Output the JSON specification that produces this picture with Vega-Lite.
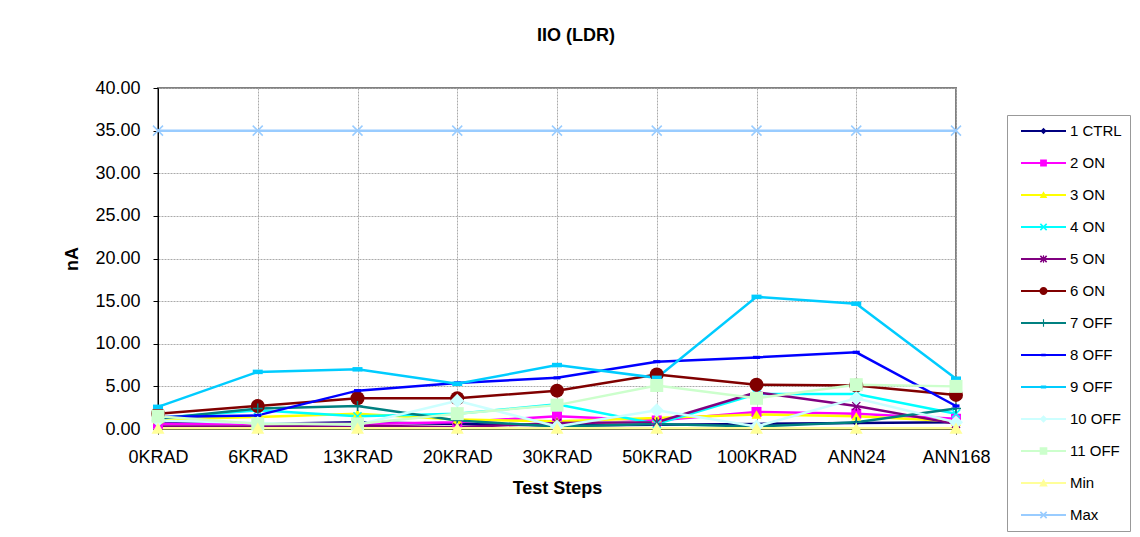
{
  "$schema": "https://vega.github.io/schema/vega-lite/v6.json",
  "autosize": "none",
  "width": 798,
  "height": 341,
  "padding": {"left": 158, "top": 88, "right": 184, "bottom": 108},
  "background": "white",
  "config": {
    "font": "Liberation Sans",
    "view": {"stroke": "#808080", "strokeWidth": 2}
  },
  "title": {"text": "IIO (LDR)", "fontSize": 18, "fontWeight": "bold", "font": "Liberation Sans", "color": "black", "offset": 34, "dx": 19, "anchor": "middle"},
  "data": {"values": [
    {"step":"0KRAD","series":"1 CTRL","value":0.9},{"step":"6KRAD","series":"1 CTRL","value":0.6},{"step":"13KRAD","series":"1 CTRL","value":0.8},{"step":"20KRAD","series":"1 CTRL","value":0.6},{"step":"30KRAD","series":"1 CTRL","value":0.4},{"step":"50KRAD","series":"1 CTRL","value":0.5},{"step":"100KRAD","series":"1 CTRL","value":0.6},{"step":"ANN24","series":"1 CTRL","value":0.7},{"step":"ANN168","series":"1 CTRL","value":0.8},
    {"step":"0KRAD","series":"2 ON","value":0.6},{"step":"6KRAD","series":"2 ON","value":0.6},{"step":"13KRAD","series":"2 ON","value":0.6},{"step":"20KRAD","series":"2 ON","value":0.8},{"step":"30KRAD","series":"2 ON","value":1.5},{"step":"50KRAD","series":"2 ON","value":1.0},{"step":"100KRAD","series":"2 ON","value":2.0},{"step":"ANN24","series":"2 ON","value":1.8},{"step":"ANN168","series":"2 ON","value":1.2},
    {"step":"0KRAD","series":"3 ON","value":1.1},{"step":"6KRAD","series":"3 ON","value":1.4},{"step":"13KRAD","series":"3 ON","value":1.8},{"step":"20KRAD","series":"3 ON","value":1.1},{"step":"30KRAD","series":"3 ON","value":0.9},{"step":"50KRAD","series":"3 ON","value":1.3},{"step":"100KRAD","series":"3 ON","value":1.7},{"step":"ANN24","series":"3 ON","value":1.5},{"step":"ANN168","series":"3 ON","value":0.9},
    {"step":"0KRAD","series":"4 ON","value":1.3},{"step":"6KRAD","series":"4 ON","value":2.2},{"step":"13KRAD","series":"4 ON","value":1.5},{"step":"20KRAD","series":"4 ON","value":1.8},{"step":"30KRAD","series":"4 ON","value":2.9},{"step":"50KRAD","series":"4 ON","value":0.6},{"step":"100KRAD","series":"4 ON","value":4.1},{"step":"ANN24","series":"4 ON","value":4.1},{"step":"ANN168","series":"4 ON","value":1.8},
    {"step":"0KRAD","series":"5 ON","value":0.3},{"step":"6KRAD","series":"5 ON","value":0.3},{"step":"13KRAD","series":"5 ON","value":0.4},{"step":"20KRAD","series":"5 ON","value":0.2},{"step":"30KRAD","series":"5 ON","value":0.7},{"step":"50KRAD","series":"5 ON","value":0.8},{"step":"100KRAD","series":"5 ON","value":4.3},{"step":"ANN24","series":"5 ON","value":2.7},{"step":"ANN168","series":"5 ON","value":0.6},
    {"step":"0KRAD","series":"6 ON","value":1.8},{"step":"6KRAD","series":"6 ON","value":2.7},{"step":"13KRAD","series":"6 ON","value":3.6},{"step":"20KRAD","series":"6 ON","value":3.6},{"step":"30KRAD","series":"6 ON","value":4.5},{"step":"50KRAD","series":"6 ON","value":6.4},{"step":"100KRAD","series":"6 ON","value":5.2},{"step":"ANN24","series":"6 ON","value":5.1},{"step":"ANN168","series":"6 ON","value":4.0},
    {"step":"0KRAD","series":"7 OFF","value":1.2},{"step":"6KRAD","series":"7 OFF","value":2.4},{"step":"13KRAD","series":"7 OFF","value":2.7},{"step":"20KRAD","series":"7 OFF","value":1.0},{"step":"30KRAD","series":"7 OFF","value":0.3},{"step":"50KRAD","series":"7 OFF","value":0.6},{"step":"100KRAD","series":"7 OFF","value":0.3},{"step":"ANN24","series":"7 OFF","value":0.8},{"step":"ANN168","series":"7 OFF","value":2.4},
    {"step":"0KRAD","series":"8 OFF","value":1.4},{"step":"6KRAD","series":"8 OFF","value":1.6},{"step":"13KRAD","series":"8 OFF","value":4.5},{"step":"20KRAD","series":"8 OFF","value":5.4},{"step":"30KRAD","series":"8 OFF","value":6.0},{"step":"50KRAD","series":"8 OFF","value":7.9},{"step":"100KRAD","series":"8 OFF","value":8.4},{"step":"ANN24","series":"8 OFF","value":9.0},{"step":"ANN168","series":"8 OFF","value":2.7},
    {"step":"0KRAD","series":"9 OFF","value":2.6},{"step":"6KRAD","series":"9 OFF","value":6.7},{"step":"13KRAD","series":"9 OFF","value":7.0},{"step":"20KRAD","series":"9 OFF","value":5.3},{"step":"30KRAD","series":"9 OFF","value":7.5},{"step":"50KRAD","series":"9 OFF","value":6.0},{"step":"100KRAD","series":"9 OFF","value":15.5},{"step":"ANN24","series":"9 OFF","value":14.7},{"step":"ANN168","series":"9 OFF","value":5.9},
    {"step":"0KRAD","series":"10 OFF","value":1.0},{"step":"6KRAD","series":"10 OFF","value":0.7},{"step":"13KRAD","series":"10 OFF","value":0.5},{"step":"20KRAD","series":"10 OFF","value":3.3},{"step":"30KRAD","series":"10 OFF","value":0.3},{"step":"50KRAD","series":"10 OFF","value":2.2},{"step":"100KRAD","series":"10 OFF","value":0.3},{"step":"ANN24","series":"10 OFF","value":3.6},{"step":"ANN168","series":"10 OFF","value":0.8},
    {"step":"0KRAD","series":"11 OFF","value":1.5},{"step":"6KRAD","series":"11 OFF","value":0.6},{"step":"13KRAD","series":"11 OFF","value":0.6},{"step":"20KRAD","series":"11 OFF","value":1.8},{"step":"30KRAD","series":"11 OFF","value":2.8},{"step":"50KRAD","series":"11 OFF","value":5.1},{"step":"100KRAD","series":"11 OFF","value":3.6},{"step":"ANN24","series":"11 OFF","value":5.2},{"step":"ANN168","series":"11 OFF","value":5.0},
    {"step":"0KRAD","series":"Min","value":0.1},{"step":"6KRAD","series":"Min","value":0.1},{"step":"13KRAD","series":"Min","value":0.1},{"step":"20KRAD","series":"Min","value":0.1},{"step":"30KRAD","series":"Min","value":0.1},{"step":"50KRAD","series":"Min","value":0.1},{"step":"100KRAD","series":"Min","value":0.1},{"step":"ANN24","series":"Min","value":0.1},{"step":"ANN168","series":"Min","value":0.1},
    {"step":"0KRAD","series":"Max","value":35},{"step":"6KRAD","series":"Max","value":35},{"step":"13KRAD","series":"Max","value":35},{"step":"20KRAD","series":"Max","value":35},{"step":"30KRAD","series":"Max","value":35},{"step":"50KRAD","series":"Max","value":35},{"step":"100KRAD","series":"Max","value":35},{"step":"ANN24","series":"Max","value":35},{"step":"ANN168","series":"Max","value":35}
  ]},
  "encoding": {
    "x": {"field": "step", "type": "ordinal",
      "scale": {"type": "point", "padding": 0, "domain": ["0KRAD","6KRAD","13KRAD","20KRAD","30KRAD","50KRAD","100KRAD","ANN24","ANN168"]},
      "axis": {"title": "Test Steps", "titleFontSize": 18, "titleFontWeight": "bold", "titleColor": "black", "titlePadding": 13,
        "labelAngle": 0, "labelFontSize": 18, "labelColor": "black", "labelPadding": 14, "tickSize": 5, "tickColor": "black",
        "domainColor": "black", "domainWidth": 1, "gridColor": "#aaaaaa", "gridDash": [2, 1], "gridWidth": 1, "grid": true}},
    "y": {"field": "value", "type": "quantitative",
      "scale": {"domain": [0, 40], "nice": false},
      "axis": {"title": "nA", "titleFontSize": 18, "titleFontWeight": "bold", "titleColor": "black", "titlePadding": 13,
        "values": [0,5,10,15,20,25,30,35,40], "format": ".2f", "labelFontSize": 18, "labelColor": "black", "labelPadding": 13,
        "tickSize": 5, "tickColor": "black", "domainColor": "black", "domainWidth": 1,
        "gridColor": "#aaaaaa", "gridDash": [2, 1], "gridWidth": 1}},
    "color": {"field": "series", "type": "nominal",
      "scale": {"domain": ["1 CTRL","2 ON","3 ON","4 ON","5 ON","6 ON","7 OFF","8 OFF","9 OFF","10 OFF","11 OFF","Min","Max"],
        "range": ["#000080","#FF00FF","#FFFF00","#00FFFF","#800080","#800000","#008080","#0000FF","#00CCFF","#CCFFFF","#CCFFCC","#FFFF99","#99CCFF"]},
      "legend": {"orient": "none", "legendX": 849, "legendY": 27, "title": null, "padding": 8, "symbolOffset": 20.5, "symbolSize": 256,
        "labelFontSize": 15, "labelColor": "black", "labelOffset": 18.5, "rowPadding": 16, "strokeColor": "#999999", "fillColor": "white",
        "symbolStrokeWidth": 0, "symbolOpacity": 1, "labelLimit": 200}}
  },
  "layer": [
    {
      "transform": [{"filter": "false"}],
      "mark": {"type": "point", "filled": true, "opacity": 1, "size": 256},
      "encoding": {
        "shape": {"field": "series", "type": "nominal",
          "scale": {"domain": ["1 CTRL","2 ON","3 ON","4 ON","5 ON","6 ON","7 OFF","8 OFF","9 OFF","10 OFF","11 OFF","Min","Max"],
            "range": [
              "M-2.8125,-0.127H2.8125V0.127H-2.8125ZM0,-0.394L0.394,0L0,0.394L-0.394,0Z",
              "M-2.8125,-0.127H2.8125V0.127H-2.8125ZM-0.422,-0.422H0.422V0.422H-0.422Z",
              "M-2.8125,-0.127H2.8125V0.127H-2.8125ZM0,-0.478L0.478,0.366H-0.478Z",
              "M-2.8125,-0.127H2.8125V0.127H-2.8125ZM-0.323,-0.464L0.464,0.323L0.323,0.464L-0.464,-0.323ZM-0.323,0.464L-0.464,0.323L0.323,-0.464L0.464,-0.323Z",
              "M-2.8125,-0.127H2.8125V0.127H-2.8125ZM-0.323,-0.464L0.464,0.323L0.323,0.464L-0.464,-0.323ZM-0.323,0.464L-0.464,0.323L0.323,-0.464L0.464,-0.323ZM-0.07,-0.478H0.07V0.478H-0.07Z",
              "M-2.8125,-0.127H2.8125V0.127H-2.8125ZM-0.506,0A0.506,0.506 0 1,1 0.506,0A0.506,0.506 0 1,1 -0.506,0Z",
              "M-2.8125,-0.127H2.8125V0.127H-2.8125ZM-0.07,-0.478H0.07V0.478H-0.07Z",
              "M-2.8125,-0.127H2.8125V0.127H-2.8125ZM-0.281,-0.169H0.281V0.169H-0.281Z",
              "M-2.8125,-0.127H2.8125V0.127H-2.8125ZM-0.3375,-0.197H0.3375V0.197H-0.3375Z",
              "M-2.8125,-0.127H2.8125V0.127H-2.8125ZM0,-0.478L0.478,0L0,0.478L-0.478,0Z",
              "M-2.8125,-0.127H2.8125V0.127H-2.8125ZM-0.478,-0.478H0.478V0.478H-0.478Z",
              "M-2.8125,-0.127H2.8125V0.127H-2.8125ZM0,-0.534L0.534,0.422H-0.534Z",
              "M-2.8125,-0.127H2.8125V0.127H-2.8125ZM-0.323,-0.464L0.464,0.323L0.323,0.464L-0.464,-0.323ZM-0.323,0.464L-0.464,0.323L0.323,-0.464L0.464,-0.323Z"
            ]},
          "legend": {"orient": "none", "legendX": 849, "legendY": 27, "title": null, "padding": 8, "symbolOffset": 20.5, "symbolSize": 256,
            "labelFontSize": 15, "labelColor": "black", "labelOffset": 18.5, "rowPadding": 16, "strokeColor": "#999999", "fillColor": "white",
            "symbolStrokeWidth": 0, "symbolOpacity": 1, "labelLimit": 200}}
      }
    },
    {"mark": {"type": "line", "strokeWidth": 2.5}},
    {"transform": [{"filter": {"field": "series", "equal": "1 CTRL"}}], "mark": {"type": "point", "shape": "diamond", "filled": true, "opacity": 1, "size": 49}},
    {"transform": [{"filter": {"field": "series", "equal": "2 ON"}}], "mark": {"type": "point", "shape": "square", "filled": true, "opacity": 1, "size": 100}},
    {"transform": [{"filter": {"field": "series", "equal": "3 ON"}}], "mark": {"type": "point", "shape": "triangle-up", "filled": true, "opacity": 1, "size": 100}},
    {"transform": [{"filter": {"field": "series", "equal": "4 ON"}}], "mark": {"type": "point", "shape": "M-1,-1L1,1M-1,1L1,-1", "filled": false, "opacity": 1, "size": 64, "strokeWidth": 1.5}},
    {"transform": [{"filter": {"field": "series", "equal": "5 ON"}}], "mark": {"type": "point", "shape": "M-1,-1L1,1M-1,1L1,-1M0,-1.2V1.2", "filled": false, "opacity": 1, "size": 64, "strokeWidth": 1.5}},
    {"transform": [{"filter": {"field": "series", "equal": "6 ON"}}], "mark": {"type": "point", "shape": "circle", "filled": true, "opacity": 1, "size": 196}},
    {"transform": [{"filter": {"field": "series", "equal": "7 OFF"}}], "mark": {"type": "point", "shape": "M-1,0H1M0,-1V1", "filled": false, "opacity": 1, "size": 100, "strokeWidth": 1.5}},
    {"transform": [{"filter": {"field": "series", "equal": "8 OFF"}}], "mark": {"type": "point", "shape": "M-1,-0.45H1V0.45H-1Z", "filled": true, "opacity": 1, "size": 49}},
    {"transform": [{"filter": {"field": "series", "equal": "9 OFF"}}], "mark": {"type": "point", "shape": "M-1,-0.45H1V0.45H-1Z", "filled": true, "opacity": 1, "size": 100}},
    {"transform": [{"filter": {"field": "series", "equal": "10 OFF"}}], "mark": {"type": "point", "shape": "diamond", "filled": true, "opacity": 1, "size": 196}},
    {"transform": [{"filter": {"field": "series", "equal": "11 OFF"}}], "mark": {"type": "point", "shape": "square", "filled": true, "opacity": 1, "size": 169}},
    {"transform": [{"filter": {"field": "series", "equal": "Min"}}], "mark": {"type": "point", "shape": "triangle-up", "filled": true, "opacity": 1, "size": 169}},
    {"transform": [{"filter": {"field": "series", "equal": "Max"}}], "mark": {"type": "point", "shape": "M-1,-1L1,1M-1,1L1,-1", "filled": false, "opacity": 1, "size": 100, "strokeWidth": 1.5}}
  ]
}
